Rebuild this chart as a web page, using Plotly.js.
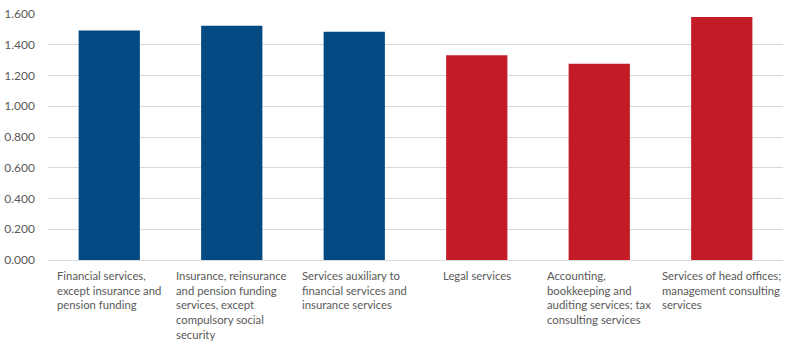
<!DOCTYPE html>
<html>
<head>
<meta charset="utf-8">
<script src="https://cdn.plot.ly/plotly-3.0.1.min.js"></script>
<style>html,body{margin:0;padding:0;background:#fff;}#chart{width:798px;height:350px;}</style>
</head>
<body>
<div id="chart"></div>
<script>
const categories = [
  "Financial services,<br>except insurance and<br>pension funding",
  "Insurance, reinsurance<br>and pension funding<br>services, except<br>compulsory social<br>security",
  "Services auxiliary to<br>financial services and<br>insurance services",
  "Legal services",
  "Accounting,<br>bookkeeping and<br>auditing services; tax<br>consulting services",
  "Services of head offices;<br>management consulting<br>services"
];
const values = [1.493, 1.523, 1.484, 1.332, 1.276, 1.580];
const barColors = ["#034A83", "#034A83", "#034A83", "#C41C26", "#C41C26", "#C41C26"];
const tickVals = [0, 0.2, 0.4, 0.6, 0.8, 1.0, 1.2, 1.4, 1.6];
const tickText = ["0.000", "0.200", "0.400", "0.600", "0.800", "1.000", "1.200", "1.400", "1.600"];

const xIdx = categories.map((c, i) => i);
const FONT = "Lato, 'Open Sans', sans-serif";

const trace = {
  type: "bar",
  x: xIdx,
  y: values,
  marker: { color: barColors, line: { width: 0 } },
  hoverinfo: "skip"
};

const annotations = categories.map((c, i) => ({
  x: i, xref: "x",
  y: 0, yref: "paper",
  yanchor: "top", xanchor: "center",
  yshift: -7,
  align: "left",
  showarrow: false,
  text: c,
  font: { family: FONT, size: 11.3, color: "#595959" }
}));

const layout = {
  width: 798, height: 350,
  margin: { l: 48, r: 15, t: 14, b: 90 },
  paper_bgcolor: "#fff", plot_bgcolor: "#fff",
  bargap: 0.5,
  showlegend: false,
  xaxis: {
    range: [-0.5, 5.5],
    showticklabels: false,
    showgrid: false,
    zeroline: false,
    showline: false,
    ticks: "",
    fixedrange: true
  },
  yaxis: {
    range: [0, 1.6],
    tickvals: tickVals,
    ticktext: tickText,
    showgrid: true,
    gridcolor: "#D9D9D9",
    gridwidth: 1,
    zeroline: true,
    zerolinecolor: "#D9D9D9",
    zerolinewidth: 1,
    showline: false,
    ticks: "",
    ticklabelstandoff: 12,
    tickfont: { family: FONT, size: 12, color: "#595959" },
    fixedrange: true
  },
  annotations: annotations
};

Plotly.newPlot("chart", [trace], layout, { displayModeBar: false, staticPlot: true });
</script>
</body>
</html>
